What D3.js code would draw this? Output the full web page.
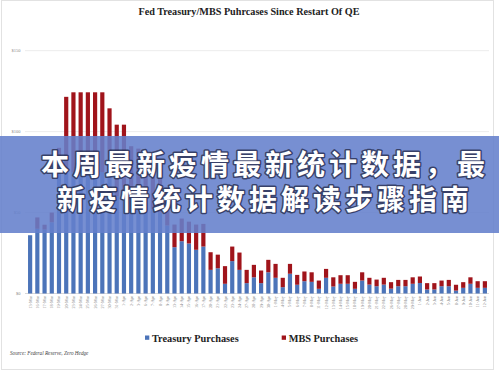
<!DOCTYPE html>
<html>
<head>
<meta charset="utf-8">
<script src="https://cdn.jsdelivr.net/npm/d3@7"></script>
<style>
  body { margin: 0; background: #fff; }
  svg { display: block; }
</style>
</head>
<body>
<div id="chart"></div>
<script>
// daily purchases, $bn
const dates = [
  "13-Mar", "16-Mar", "17-Mar", "18-Mar", "19-Mar", "20-Mar", "23-Mar", "24-Mar",
  "25-Mar", "26-Mar", "27-Mar", "30-Mar", "31-Mar", "1-Apr", "2-Apr", "3-Apr",
  "6-Apr", "7-Apr", "8-Apr", "9-Apr", "13-Apr", "14-Apr", "15-Apr", "16-Apr",
  "17-Apr", "20-Apr", "21-Apr", "22-Apr", "23-Apr", "24-Apr", "27-Apr", "28-Apr",
  "29-Apr", "30-Apr", "1-May", "4-May", "5-May", "6-May", "7-May", "8-May",
  "11-May", "12-May", "13-May", "14-May", "15-May", "18-May", "19-May", "20-May",
  "21-May", "22-May", "26-May", "27-May", "28-May", "29-May", "1-Jun", "2-Jun",
  "3-Jun", "4-Jun", "5-Jun", "8-Jun", "9-Jun", "10-Jun", "11-Jun", "12-Jun"
];
const treasury = [
  36, 40, 39.5, 44, 84, 75, 75, 75, 75, 75, 75, 75, 60, 60, 58, 55,
  50, 52, 50, 42, 28.6, 32.3, 30.9, 27, 29, 14.6, 15.6, 6, 20, 14.6, 6.4, 10,
  6.4, 13.1, 9.7, 3.9, 12.2, 5.4, 7.6, 7.2, 2.9, 9.7, 4.3, 6, 6, 2.9, 8, 5.5,
  4.5, 5.5, 3, 4.5, 4.5, 6, 6.5, 2.5, 2.5, 4.5, 4.5, 1.8, 3.5, 6, 3.5, 3.5
];
const mbs = [
  0, 7, 3, 6, 6, 46.5, 49.3, 49.3, 49.3, 49.3, 49.3, 39.4, 44.3, 44.3, 33, 34.5,
  31, 33, 31, 23, 14, 14, 13.5, 15.6, 14, 10.9, 8.4, 10.9, 9, 10.7, 8.2, 7.7,
  7.8, 7.7, 8.6, 5.8, 6.1, 6.1, 6, 5.9, 5.1, 5.5, 5.7, 5.3, 5.3, 4.3, 5.1, 4.2,
  4.1, 4.2, 4, 3.9, 3.9, 4, 4, 3.9, 3.9, 3.5, 3.9, 3.6, 3.5, 4, 4.1, 4.1
];
const yTicks = [0, 50, 100, 150];
const seriesNames = ["Treasury Purchases", "MBS Purchases"];
const colors = ["#4c74b9", "#a0141b"];

const W = 499, H = 371;
const svg = d3.select("#chart").append("svg")
  .attr("width", W).attr("height", H);

svg.append("rect")
  .attr("x", 1.5).attr("y", 0.5).attr("width", 492).attr("height", 369)
  .attr("fill", "#fff").attr("stroke", "#e2e2e2");

svg.append("text")
  .attr("x", 249).attr("y", 14.5)
  .attr("text-anchor", "middle")
  .style("font-family", "'Liberation Serif', serif")
  .style("font-weight", "bold")
  .style("font-size", "10.2px")
  .attr("fill", "#222")
  .text("Fed Treasury/MBS Puhrcases Since Restart Of QE");

const x = d3.scaleBand().domain(dates).range([25, 490]).padding(0.42);
const y = d3.scaleLinear().domain([0, 150]).range([293.5, 50.7]);

// grid + y labels
svg.append("g").selectAll("line")
  .data(yTicks).join("line")
  .attr("x1", 25).attr("x2", 489)
  .attr("y1", d => y(d)).attr("y2", d => y(d))
  .attr("stroke", d => d === 0 ? "#d8d8d8" : "#ececec")
  .attr("stroke-width", 1);

svg.append("g").selectAll("text")
  .data(yTicks).join("text")
  .attr("x", 20.5).attr("y", d => y(d) + 1.5)
  .attr("text-anchor", "end")
  .style("font-family", "'Liberation Serif', serif")
  .style("font-size", "4.5px")
  .attr("fill", "#888")
  .text(d => "$" + d);

const rows = dates.map((d, i) => ({ date: d, t: treasury[i], m: mbs[i] }));
const stacked = d3.stack().keys(["t", "m"])(rows);

svg.append("g").selectAll("g")
  .data(stacked).join("g")
  .attr("fill", (d, i) => colors[i])
  .selectAll("rect")
  .data(d => d).join("rect")
  .attr("x", d => x(d.data.date))
  .attr("width", x.bandwidth())
  .attr("y", d => y(d[1]))
  .attr("height", d => y(d[0]) - y(d[1]));

// rotated date labels
svg.append("g").selectAll("text")
  .data(dates).join("text")
  .attr("transform", d => `translate(${x(d) + x.bandwidth() / 2 + 1.5},296) rotate(-90)`)
  .attr("text-anchor", "end")
  .style("font-family", "'Liberation Serif', serif")
  .style("font-size", "4.2px")
  .attr("fill", "#888")
  .text(d => d);

// legend
const legend = svg.append("g")
  .style("font-family", "'Liberation Serif', serif")
  .style("font-weight", "bold")
  .style("font-size", "10.3px");
const legendX = [145, 281.7];
seriesNames.forEach((name, i) => {
  legend.append("rect")
    .attr("x", legendX[i]).attr("y", 335.5)
    .attr("width", 4.3).attr("height", 4.3)
    .attr("fill", colors[i]);
  legend.append("text")
    .attr("x", legendX[i] + 7).attr("y", 341.5)
    .attr("fill", "#222")
    .text(name);
});

svg.append("text")
  .attr("x", 10).attr("y", 354.5)
  .style("font-family", "'Liberation Serif', serif")
  .style("font-style", "italic")
  .style("font-size", "5.2px")
  .attr("fill", "#444")
  .text("Source: Federal Reserve, Zero Hedge");

// overlay banner
svg.append("rect")
  .attr("x", 0).attr("y", 136).attr("width", W).attr("height", 97)
  .attr("fill", "rgb(100,128,204)").attr("opacity", 0.88);

const bannerLines = ["本周最新疫情最新统计数据，最", "新疫情统计数据解读步骤指南"];
svg.append("g")
  .style("font-family", "'Noto Sans CJK SC', sans-serif")
  .style("font-weight", "bold")
  .style("font-size", "28px")
  .style("letter-spacing", "4px")
  .selectAll("text")
  .data(bannerLines).join("text")
  .attr("x", 265).attr("y", (d, i) => 175 + i * 35)
  .attr("text-anchor", "middle")
  .attr("fill", "#fff")
  .attr("stroke", "rgba(35,40,70,0.75)")
  .attr("stroke-width", 3)
  .attr("stroke-linejoin", "round")
  .attr("paint-order", "stroke")
  .text(d => d);
</script>
</body>
</html>
